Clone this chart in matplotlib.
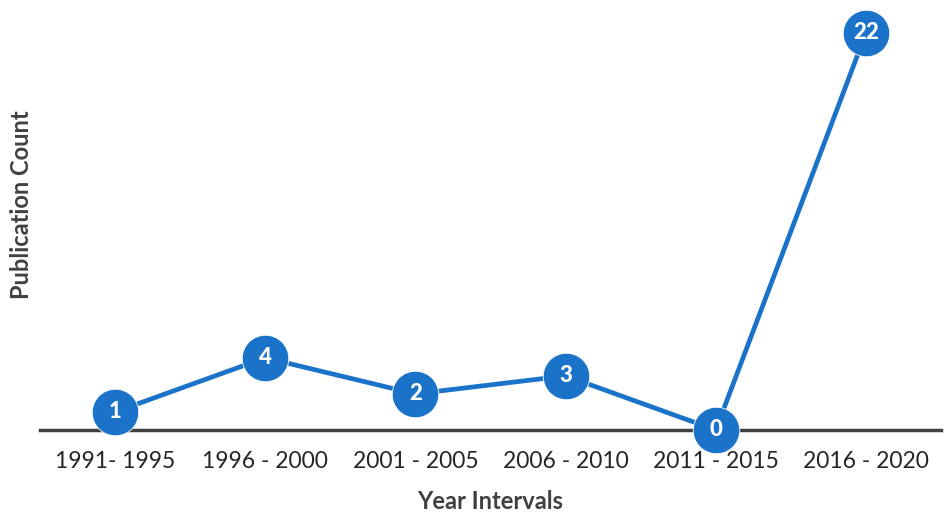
import matplotlib
matplotlib.use("Agg")
import matplotlib.pyplot as plt

intervals = ["1991- 1995", "1996 - 2000", "2001 - 2005", "2006 - 2010", "2011 - 2015", "2016 - 2020"]
counts = [1, 4, 2, 3, 0, 22]

blue = "#1b72c9"
plt.rcParams["font.family"] = ["Lato", "DejaVu Sans"]

fig = plt.figure(figsize=(9.49, 5.19), dpi=100)
ax = fig.add_axes([40 / 949, 89 / 519, 901 / 949, 425 / 519])

x = list(range(len(counts)))
ax.plot(x, counts, color=blue, lw=3.4, marker="o", ms=33.5,
        markerfacecolor=blue, markeredgecolor="white", markeredgewidth=0.6,
        clip_on=False, zorder=3)
for xi, c in zip(x, counts):
    ax.text(xi, c, str(c), ha="center", va="center", color="white",
            fontsize=16, fontweight="black", zorder=4)

ax.set_xlim(-0.5, len(counts) - 0.5)
ax.set_ylim(0, 23.55)
ax.set_xticks(x)
ax.set_xticklabels(intervals, fontsize=16.5, color="#262626")
ax.tick_params(axis="x", length=0, pad=15)
ax.set_yticks([])
for s in ["top", "right", "left"]:
    ax.spines[s].set_visible(False)
ax.spines["bottom"].set_color("#404040")
ax.spines["bottom"].set_linewidth(2.5)
ax.spines["bottom"].set_zorder(2)

ax.set_xlabel("Year Intervals", fontsize=17, fontweight="bold", color="#404040", labelpad=13)
fig.text(22 / 949, 1 - 205 / 519, "Publication Count", rotation=90, ha="center", va="center",
         fontsize=17, fontweight="bold", color="#404040")

fig.savefig("out.png", dpi=100)
